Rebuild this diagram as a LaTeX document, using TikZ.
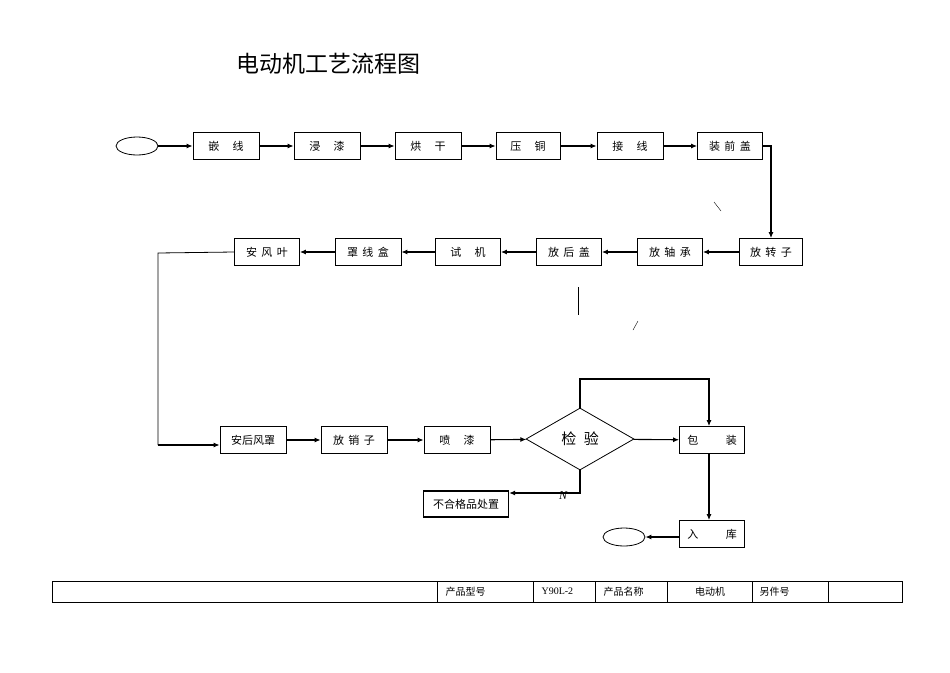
\documentclass[tikz,border=0pt]{standalone}
\usepackage{fontspec}
\setmainfont{Liberation Serif}
\newfontfamily\cjk{Noto Sans CJK SC}
\usetikzlibrary{shapes.geometric,arrows.meta}
\begin{document}
\begin{tikzpicture}[x=1pt,y=-1pt,
 bx/.style={draw,line width=0.8pt,minimum width=66pt,minimum height=27pt,font=\cjk\fontsize{11}{12}\selectfont,inner sep=0pt},
 ov/.style={draw,line width=0.8pt,ellipse,minimum width=42pt,minimum height=18pt,inner sep=0pt},
 ar/.style={-{Latex[length=6pt,width=5pt]},line width=1.1pt},
 ln/.style={line width=0.8pt}]
\useasboundingbox (0,0) rectangle (950,672);
\node[font=\cjk\fontsize{23}{26}\selectfont] (title) at (328,64) {电动机工艺流程图};
\node[ov] (s) at (137,146) {};
\node[bx] (a1) at (226,146) {嵌\hspace{1.2em}线};
\node[bx] (a2) at (327,146) {浸\hspace{1.2em}漆};
\node[bx] (a3) at (428,146) {烘\hspace{1.2em}干};
\node[bx,minimum width=64pt] (a4) at (528,146) {压\hspace{1.2em}铜};
\node[bx] (a5) at (630,146) {接\hspace{1.2em}线};
\node[bx,minimum width=65pt] (a6) at (730,146) {装\hspace{0.4em}前\hspace{0.4em}盖};
\node[bx,minimum width=63pt] (b1) at (771,252) {放\hspace{0.4em}转\hspace{0.4em}子};
\node[bx,minimum width=65pt] (b2) at (670,252) {放\hspace{0.4em}轴\hspace{0.4em}承};
\node[bx,minimum width=65pt] (b3) at (569,252) {放\hspace{0.4em}后\hspace{0.4em}盖};
\node[bx,minimum width=65pt] (b4) at (468,252) {试\hspace{1.2em}机};
\node[bx] (b5) at (368,252) {罩\hspace{0.4em}线\hspace{0.4em}盒};
\node[bx,minimum width=65pt] (b6) at (267,252) {安\hspace{0.4em}风\hspace{0.4em}叶};
\node[bx] (c1) at (253,440) {安后风罩};
\node[bx] (c2) at (354,440) {放\hspace{0.4em}销\hspace{0.4em}子};
\node[bx] (c3) at (457,440) {喷\hspace{1.2em}漆};
\node[draw,line width=0.8pt,diamond,aspect=1.75,minimum width=108pt,minimum height=62pt,inner sep=0pt,font=\cjk\fontsize{15}{16}\selectfont] (d) at (580,439) {检\hspace{0.5em}验};
\node[bx,minimum width=65pt] (p) at (712,440) {包\hspace{2.5em}装};
\node[bx,minimum width=65pt] (r) at (712,534) {入\hspace{2.5em}库};
\node[ov] (e) at (624,537) {};
\node[bx,minimum width=85pt,minimum height=26pt,line width=1.3pt] (n) at (466,504) {不合格品处置};
\draw[ar] (s) -- (a1); \draw[ar] (a1) -- (a2); \draw[ar] (a2) -- (a3);
\draw[ar] (a3) -- (a4); \draw[ar] (a4) -- (a5); \draw[ar] (a5) -- (a6);
\draw[ar] (a6.east) -| (b1.north);
\draw[ar] (b1) -- (b2); \draw[ar] (b2) -- (b3); \draw[ar] (b3) -- (b4);
\draw[ar] (b4) -- (b5); \draw[ar] (b5) -- (b6);
\coordinate (k1) at (158,253); \coordinate (k2) at (158,445);
\draw[ln] (b6.west) -- (k1) -- (k2);
\draw[ar] (k2) -- (c1.west |- k2);
\draw[ar] (c1) -- (c2); \draw[ar] (c2) -- (c3); \draw[ar] (c3) -- (d);
\draw[ar] (d) -- (p);
\coordinate (t1) at (580,379); \coordinate (t2) at (709,379);
\draw[ar] (d.north) -- (t1) -- (t2) -- (t2 |- p.north);
\coordinate (u1) at (580,493);
\draw[ar] (d.south) -- (u1) -- (n.east |- u1);
\node[font=\itshape\fontsize{12}{12}\selectfont,inner sep=0pt] (nl) at (563,496) {N};
\draw[ar] (p.south -| t2) -- (r.north -| t2);
\draw[ar] (r.west |- e) -- (e);
\draw (714,202) -- (721,211); \draw (578,287) -- (578,315); \draw (633,330) -- (638,321);
% table
\draw[line width=0.8pt] (52,581) rectangle (902,602);
\foreach \xx in {437,533,595,667,752,828} \draw (\xx,581) -- (\xx,602);
\node[font=\cjk\fontsize{10}{11}\selectfont,anchor=west] (t1l) at (442,591.5) {产品型号};
\node[font=\fontsize{10}{11}\selectfont,anchor=west] (t2l) at (538,591) {Y90L-2};
\node[font=\cjk\fontsize{10}{11}\selectfont,anchor=west] (t3l) at (600,591.5) {产品名称};
\node[font=\cjk\fontsize{10}{11}\selectfont] (t4l) at (710,591.5) {电动机};
\node[font=\cjk\fontsize{10}{11}\selectfont,anchor=west] (t5l) at (756,591.5) {另件号};
\end{tikzpicture}
\end{document}
